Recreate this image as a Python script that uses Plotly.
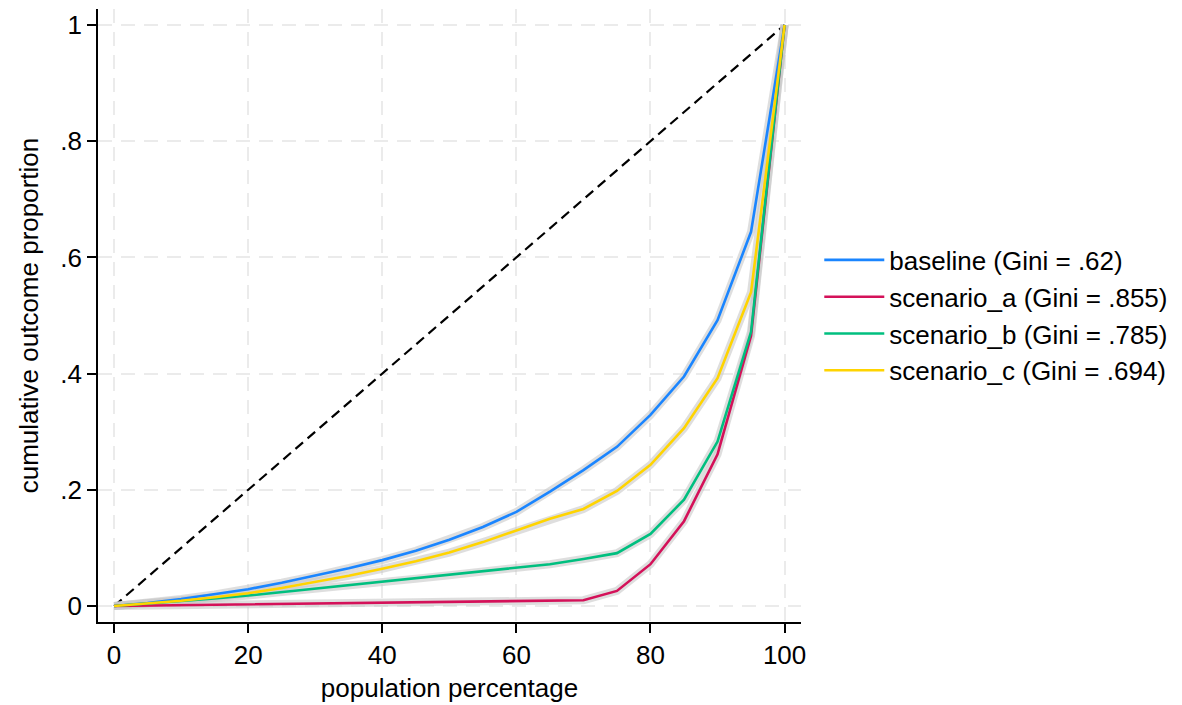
import plotly.graph_objects as go

pop_pct = [0, 5, 10, 15, 20, 25, 30, 35, 40, 45, 50, 55, 60, 65, 70, 75, 80, 85, 90, 95, 100]

baseline = [0, 0.005, 0.012, 0.020, 0.029, 0.040, 0.052, 0.065, 0.079, 0.095, 0.114, 0.136, 0.162, 0.197, 0.234, 0.274, 0.329, 0.395, 0.492, 0.644, 1.0]
scenario_a = [0, 0.0007, 0.0014, 0.002, 0.0027, 0.0033, 0.004, 0.0047, 0.0054, 0.006, 0.0066, 0.0072, 0.0078, 0.0085, 0.010, 0.026, 0.072, 0.146, 0.261, 0.465, 1.0]
scenario_b = [0, 0.004, 0.008, 0.013, 0.018, 0.024, 0.029, 0.035, 0.041, 0.047, 0.053, 0.059, 0.065, 0.072, 0.081, 0.091, 0.124, 0.183, 0.283, 0.472, 1.0]
scenario_c = [0, 0.004, 0.009, 0.015, 0.022, 0.031, 0.041, 0.052, 0.064, 0.077, 0.092, 0.110, 0.130, 0.150, 0.167, 0.198, 0.243, 0.306, 0.392, 0.540, 1.0]

series_names = ["baseline (Gini = .62)", "scenario_a (Gini = .855)", "scenario_b (Gini = .785)", "scenario_c (Gini = .694)"]
series_values = [baseline, scenario_a, scenario_b, scenario_c]
series_colors = ["#1a85ff", "#d41159", "#00bf7f", "#ffd400"]

equality_x = [0, 100]
equality_y = [0, 1]

x_ticks = [0, 20, 40, 60, 80, 100]
y_ticks = [0, 0.2, 0.4, 0.6, 0.8, 1.0]
y_tick_labels = ["0", ".2", ".4", ".6", ".8", "1"]

FONT = "Liberation Sans, Arial, sans-serif"
FS = 26

fig = go.Figure()

fig.add_trace(go.Scatter(x=equality_x, y=equality_y, mode="lines",
                         line=dict(color="black", width=2.2, dash="10px,6px"),
                         showlegend=False, hoverinfo="skip"))

# light gray bands under each curve
for vals in series_values:
    fig.add_trace(go.Scatter(x=pop_pct, y=vals, mode="lines",
                             line=dict(color="rgba(200,200,200,0.6)", width=8),
                             showlegend=False, hoverinfo="skip"))

for name, vals, col in zip(series_names, series_values, series_colors):
    fig.add_trace(go.Scatter(x=pop_pct, y=vals, mode="lines", name=name,
                             line=dict(color=col, width=2.6)))

axis_common = dict(
    showline=True, linecolor="black", linewidth=1.5,
    ticks="outside", ticklen=9, tickwidth=1.5, tickcolor="black",
    showgrid=True, gridcolor="#ebebeb", gridwidth=2, griddash="14px,9px",
    zeroline=False, automargin=False,
    tickfont=dict(size=FS, color="black", family=FONT),
)

fig.update_xaxes(range=[-2.4, 102.45], tickvals=x_ticks,
                 title=dict(text="population percentage", font=dict(size=FS, color="black", family=FONT), standoff=10),
                 **axis_common)
fig.update_yaxes(range=[-0.0275, 1.0275], tickvals=y_ticks, ticktext=y_tick_labels,
                 title=dict(text="cumulative outcome proportion", font=dict(size=FS, color="black", family=FONT), standoff=14),
                 **axis_common)

fig.update_layout(
    width=1182, height=705,
    margin=dict(l=98, r=381, t=9, b=83, autoexpand=False),
    plot_bgcolor="white", paper_bgcolor="white",
    font=dict(family=FONT, size=FS, color="black"),
    legend=dict(x=1.026, xanchor="left", y=0.5, yanchor="middle",
                font=dict(size=FS, color="black", family=FONT),
                itemwidth=60, bgcolor="rgba(0,0,0,0)"),
)

fig.write_html("out.html", config={"displayModeBar": False},
               post_script="document.body.style.margin='0';")
